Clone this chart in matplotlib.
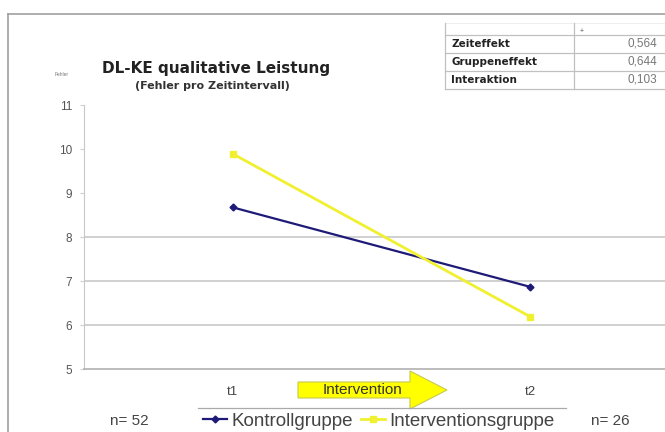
import numpy as np
import matplotlib
matplotlib.use('Agg')
import matplotlib.pyplot as plt
from matplotlib.patches import Polygon

plt.rcParams['font.family'] = ['Liberation Sans', 'DejaVu Sans']

# daten (dritter zeitpunkt liegt ausserhalb des ausschnitts)
zeitpunkte = ['t1', 't2', '']
kontrollgruppe = [8.68, 6.87]
interventionsgruppe = [9.9, 6.19]
effekt_namen = ['Zeiteffekt', 'Gruppeneffekt', 'Interaktion']
effekt_werte = ['0,564', '0,644', '0,103']
n_werte = ['n= 52', 'n= 26']

W, H = 665, 432
fig = plt.figure(figsize=(W / 100, H / 100), dpi=100)

# hauptdiagramm (rechts abgeschnitten wie im screenshot)
ax = fig.add_axes([84 / W, 1 - 369 / H, 892.5 / W, 263.5 / H])
ax.set_xlim(-0.5, len(zeitpunkte) - 0.5)
ax.set_ylim(5, 11)
ax.set_yticks(range(5, 12))
ax.set_xticks(range(len(zeitpunkte)))
ax.set_xticklabels(zeitpunkte)
for y in [6, 7, 8, 11]:
    ax.axhline(y, color='#c8c8c8', lw=1.2, zorder=0)
for s in ['top', 'right']:
    ax.spines[s].set_visible(False)
ax.spines['left'].set_color('#c8c8c8')
ax.spines['bottom'].set_color('#b0b0b0')
ax.spines['bottom'].set_linewidth(1.2)
ax.tick_params(axis='y', length=3, color='#d0d0d0', labelsize=8.5, labelcolor='#555555', pad=5.5)
ax.tick_params(axis='x', length=0, labelsize=9.5, labelcolor='#444444', pad=12)

x = np.arange(len(kontrollgruppe))
ax.plot(x, kontrollgruppe, color='#1e1a78', lw=1.6, marker='D', ms=3.5, label='Kontrollgruppe')
ax.plot(x, interventionsgruppe, color='#f0f030', lw=2, marker='s', ms=4.5, label='Interventionsgruppe')

# overlay in pixeln
ov = fig.add_axes([0, 0, 1, 1])
ov.set_xlim(0, W)
ov.set_ylim(H, 0)
ov.axis('off')
ov.patch.set_alpha(0)

# rahmen
ov.plot([8, W], [14, 14], color='#a0a0a0', lw=1.2)
ov.plot([8, 8], [14, H], color='#a0a0a0', lw=1.2)

# titel
ov.text(216, 68, 'DL-KE qualitative Leistung', ha='center', va='center', fontsize=11,
        fontweight='bold', family='DejaVu Sans', color='#222222')
ov.text(212, 86, '(Fehler pro Zeitintervall)', ha='center', va='center', fontsize=8,
        fontweight='bold', family='DejaVu Sans', color='#333333')
ov.text(62, 75, 'Fehler', ha='center', va='center', fontsize=3.5, color='#777777')

# tabelle oben rechts
rows_y = [35, 53, 71, 89]
ov.plot([445, W], [23, 23], color='#eeeeee', lw=0.8)
for yy in rows_y:
    ov.plot([445, W], [yy, yy], color='#c0c0c0', lw=0.9)
ov.plot([445, 445], [23, 89], color='#c0c0c0', lw=0.9)
ov.plot([574, 574], [23, 89], color='#c0c0c0', lw=0.9)
ov.text(582, 32, '+', ha='center', va='center', fontsize=5, color='#555555')
for i, (name, wert) in enumerate(zip(effekt_namen, effekt_werte)):
    yc = (rows_y[i] + rows_y[i + 1]) / 2
    ov.text(451, yc, name, ha='left', va='center', fontsize=7.5, fontweight='bold',
            family='DejaVu Sans', color='#222222')
    ov.text(627, yc, wert, ha='left', va='center', fontsize=8.5, color='#777777')

# interventionspfeil
pfeil = Polygon([[298, 382], [410, 382], [410, 371], [447, 390], [410, 409], [410, 398], [298, 398]],
                closed=True, facecolor='#ffff00', edgecolor='#c8c850', lw=0.8)
ov.add_patch(pfeil)
ov.text(362, 390, 'Intervention', ha='center', va='center', fontsize=11, color='#333333')

# legende
ov.plot([198, 566], [408, 408], color='#aaaaaa', lw=0.9)
leg = ax.legend(loc='center left', bbox_to_anchor=(203 / W, 1 - 421 / H), bbox_transform=fig.transFigure,
                ncol=2, frameon=False, fontsize=13.5, handlelength=1.3, handletextpad=0.2,
                columnspacing=0.45, borderaxespad=0, borderpad=0)
for t in leg.get_texts():
    t.set_color('#444444')

ov.text(129, 421, n_werte[0], ha='center', va='center', fontsize=11, color='#444444')
ov.text(610, 421, n_werte[1], ha='center', va='center', fontsize=11, color='#444444')

fig.savefig('out.png', dpi=100)
